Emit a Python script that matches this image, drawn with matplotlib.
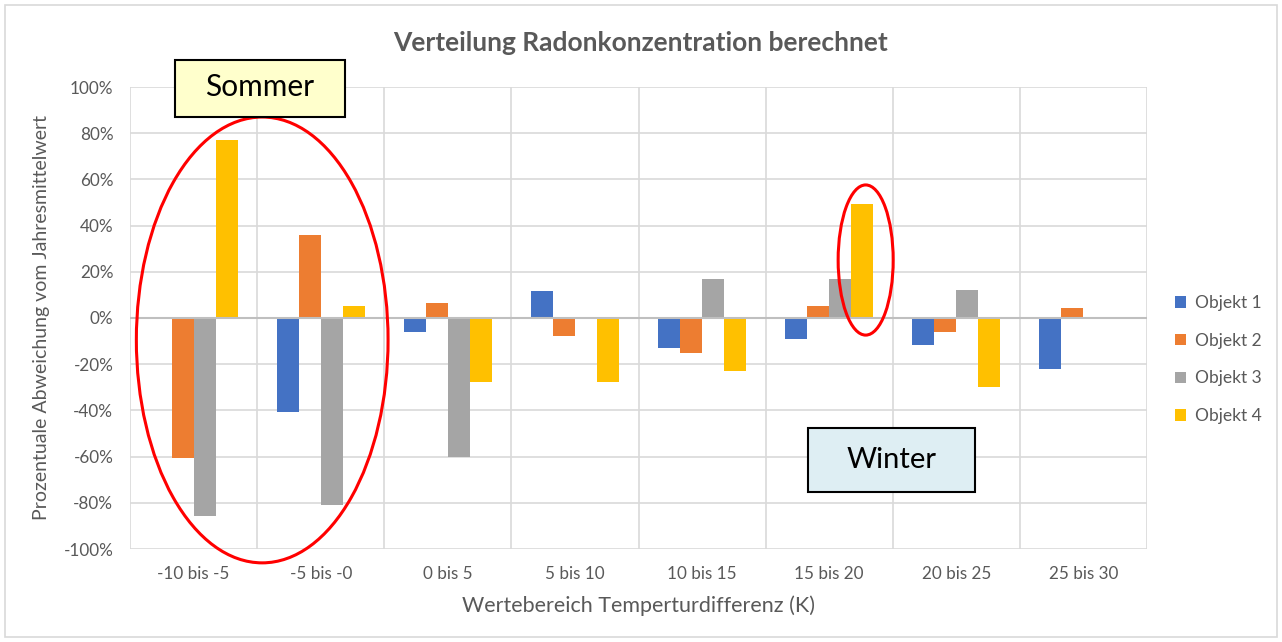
import matplotlib
matplotlib.use("Agg")
import matplotlib.pyplot as plt
import numpy as np
from matplotlib.patches import Ellipse, Rectangle

plt.rcParams['font.family'] = ['Lato', 'DejaVu Sans']

categories = ["-10 bis -5", "-5 bis -0", "0 bis 5", "5 bis 10", "10 bis 15",
              "15 bis 20", "20 bis 25", "25 bis 30"]
series_names = ["Objekt 1", "Objekt 2", "Objekt 3", "Objekt 4"]
objekt1 = [0, -40.5, -6, 11.5, -13, -9, -11.5, -22]
objekt2 = [-60.5, 36, 6.5, -8, -15, 5, -6, 4.5]
objekt3 = [-85.5, -81, -60, -0.5, 17, 17, 12, 0.5]
objekt4 = [77, 5, -27.5, -27.5, -23, 49.5, -30, 0]
colors = ["#4472C4", "#ED7D31", "#A5A5A5", "#FFC000"]
yticks = [-100, -80, -60, -40, -20, 0, 20, 40, 60, 80, 100]

W, H = 1282, 642
fig = plt.figure(figsize=(W / 100, H / 100), dpi=100)
ax = fig.add_axes([130 / W, 1 - 549 / H, (1147 - 130) / W, (549 - 87) / H])

x = np.arange(len(categories))
bw = 0.173
data = [objekt1, objekt2, objekt3, objekt4]
for i, (vals, c, name) in enumerate(zip(data, colors, series_names)):
    ax.bar(x + (i - 1.5) * bw, vals, bw, color=c, label=name, zorder=3)

ax.set_xlim(-0.5, len(categories) - 0.5)
ax.set_ylim(-100, 100)
ax.set_yticks(yticks)
ax.set_yticklabels([f"{v}%" for v in yticks])
ax.set_xticks(x)
ax.set_xticklabels(categories)
ax.set_xticks(np.arange(len(categories) + 1) - 0.5, minor=True)
ax.tick_params(axis='both', which='both', length=0, colors="#595959", labelsize=12.3)
ax.tick_params(axis='x', pad=12)
ax.tick_params(axis='y', pad=12)
ax.grid(True, axis='y', which='major', color="#D9D9D9", lw=1.2, zorder=0)
ax.grid(True, axis='x', which='minor', color="#D9D9D9", lw=1.2, zorder=0)
ax.grid(False, axis='x', which='major')
for s in ax.spines.values():
    s.set_visible(False)
ax.axhline(0, color="#BFBFBF", lw=1.5, zorder=4)

ax.set_xlabel("Wertebereich Temperturdifferenz (K)", fontsize=15.5, color="#595959", labelpad=10)
ax.set_ylabel("Prozentuale Abweichung vom Jahresmittelwert", fontsize=14, color="#595959", labelpad=10)
fig.text(0.5, 1 - 43 / H, "Verteilung Radonkonzentration berechnet", ha='center', va='center',
         fontsize=19, fontweight='bold', color="#595959")

leg = ax.legend(loc='center left', bbox_to_anchor=(1.012, 0.41), frameon=False,
                fontsize=12.5, labelcolor="#595959", handlelength=0.65, handleheight=0.65,
                labelspacing=1.25, handletextpad=0.5)

# Red ellipses
ax.add_patch(Ellipse((0.54, -9.5), 1.98, 193, fill=False, edgecolor="#FF0000", lw=2.2,
                     zorder=6, clip_on=False))
ax.add_patch(Ellipse((5.287, 25.1), 0.433, 65, fill=False, edgecolor="#FF0000", lw=2.2,
                     zorder=6, clip_on=False))

# Sommer / Winter boxes
fig.add_artist(Rectangle((175 / W, 1 - 117 / H), 170 / W, 57 / H, transform=fig.transFigure,
                         facecolor="#FFFFCC", edgecolor="black", lw=1.5, zorder=7))
fig.text(260 / W, 1 - 87 / H, "Sommer", ha='center', va='center', fontsize=21.5, color="black", zorder=8)
fig.add_artist(Rectangle((808 / W, 1 - 492 / H), 167 / W, 64 / H, transform=fig.transFigure,
                         facecolor="#DEEEF3", edgecolor="black", lw=1.5, zorder=7))
fig.text(892 / W, 1 - 460 / H, "Winter", ha='center', va='center', fontsize=21, color="black", zorder=8)

# outer border
fig.add_artist(Rectangle((5 / W, 5 / H), 1 - 10 / W, 1 - 10 / H, transform=fig.transFigure,
                         fill=False, edgecolor="#D9D9D9", lw=1.2))

fig.savefig("out.png", dpi=100, facecolor="white")
